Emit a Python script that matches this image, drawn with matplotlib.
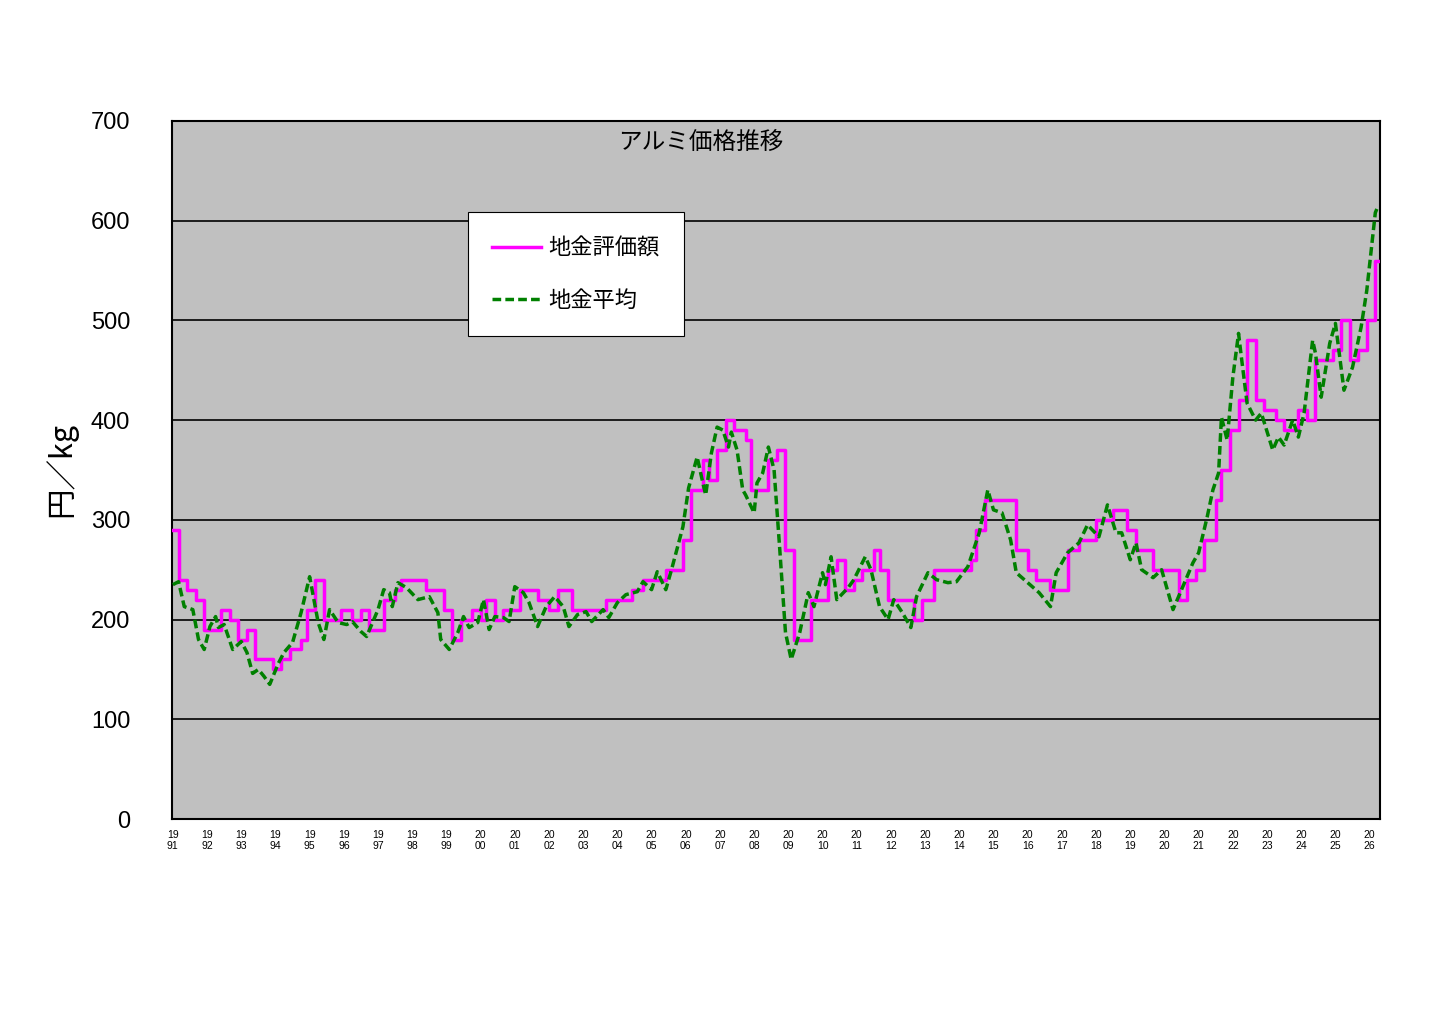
import matplotlib
matplotlib.use('Agg')
import matplotlib.pyplot as plt
import numpy as np

plt.rcParams['font.family'] = ['Noto Sans CJK JP', 'DejaVu Sans']

# months since Jan 1991 where the appraisal value changes, and its new value
appr_month = [0, 2, 5, 8, 11, 17, 20, 23, 26, 29, 35, 38, 41, 45, 47, 50, 53, 59, 63, 66, 69,
              74, 78, 80, 89, 95, 98, 101, 105, 108, 110, 113, 116, 122, 128, 132, 135, 140, 152,
              161, 165, 173, 179, 182, 186, 188, 191, 194, 197, 201, 203, 209, 212, 215, 218, 224,
              230, 233, 236, 239, 242, 246, 248, 251, 260, 263, 267, 280, 282, 285, 296, 300, 303,
              308, 314, 318, 324, 330, 335, 338, 344, 353, 356, 359, 362, 366, 368, 371, 374, 377,
              380, 383, 387, 390, 395, 398, 401, 407, 410, 413, 416, 419, 422, 423.5]
appr_value = [290, 240, 230, 220, 190, 210, 200, 180, 190, 160, 150, 160, 170, 180, 210, 240, 200,
              210, 200, 210, 190, 220, 230, 240, 230, 210, 180, 200, 210, 200, 220, 200, 210, 230,
              220, 210, 230, 210, 220, 230, 240, 250, 280, 330, 360, 340, 370, 400, 390, 380, 330,
              360, 370, 270, 180, 220, 250, 260, 230, 240, 250, 270, 250, 220, 200, 220, 250, 260,
              290, 320, 270, 250, 240, 230, 270, 280, 300, 310, 290, 270, 250, 220, 240, 250, 280,
              320, 350, 390, 420, 480, 420, 410, 400, 390, 410, 400, 460, 470, 500, 460, 470, 500,
              560, 560]

avg_month = [0, 2, 4, 7, 9, 11, 13, 15, 16, 18, 21, 24, 26, 28, 30, 32, 34, 37, 39, 42, 45, 48,
             51, 53, 55, 58, 61, 63, 66, 68, 72, 74, 76, 77, 79, 82, 86, 90, 93, 94, 97, 100, 102,
             104, 107, 109, 111, 113, 116, 118, 120, 123, 125, 128, 131, 134, 137, 139, 142, 145,
             147, 151, 153, 156, 159, 163, 165, 168, 170, 173, 175, 179, 181, 184, 186, 187, 189,
             191, 193, 195, 196, 198, 200, 201, 204, 205, 207, 209, 211, 213, 215, 217, 220, 223,
             225, 228, 229, 231, 233, 237, 239, 243, 245, 248, 251, 253, 256, 259, 261, 265, 268,
             272, 275, 279, 283, 286, 288, 291, 294, 296, 300, 304, 308, 310, 314, 318, 321, 325,
             328, 331, 333, 336, 338, 340, 344, 347, 351, 354, 358, 360, 363, 365, 367, 368, 370,
             372, 374, 375, 377, 380, 382, 386, 388, 390, 393, 395, 397, 400, 401, 403, 406, 408,
             411, 414, 417, 419, 422, 423]
avg_value = [235, 238, 213, 210, 180, 170, 193, 203, 192, 195, 170, 178, 167, 146, 150, 143, 135,
             156, 167, 177, 207, 243, 197, 180, 210, 197, 195, 198, 188, 183, 210, 230, 227, 213,
             237, 232, 220, 223, 207, 180, 170, 187, 203, 192, 197, 220, 190, 203, 202, 198, 233,
             227, 217, 193, 213, 223, 213, 193, 205, 208, 198, 210, 202, 217, 225, 228, 238, 230,
             248, 230, 250, 293, 332, 363, 337, 325, 367, 393, 390, 373, 388, 370, 330, 325, 307,
             337, 347, 373, 350, 270, 187, 160, 187, 227, 213, 247, 235, 263, 220, 232, 240, 263,
             250, 213, 200, 220, 207, 192, 223, 247, 240, 237, 238, 253, 287, 330, 310, 307, 280,
             247, 237, 227, 213, 247, 267, 277, 295, 283, 315, 287, 287, 260, 277, 250, 242, 250,
             210, 230, 257, 267, 303, 330, 347, 403, 380, 443, 487, 463, 417, 400, 407, 370, 383,
             375, 400, 383, 407, 480, 467, 423, 477, 497, 430, 453, 493, 530, 608, 615]

years = list(range(1991, 2027))

appr_x = 1991 + np.array(appr_month) / 12
avg_x = 1991 + np.array(avg_month) / 12

fig = plt.figure(figsize=(14.32, 10.14), dpi=100)
ax = fig.add_axes([0.120, 0.1923, 0.8436, 0.6884])
ax.set_facecolor('#C0C0C0')

ax.step(appr_x, appr_value, where='post', color='#FF00FF', lw=2.5, label='地金評価額', zorder=3)
ax.plot(avg_x, avg_value, color='#008000', lw=2.5, ls=(0, (2.5, 1.2)), label='地金平均', zorder=4)

ax.set_xlim(1990.97, 2026.3)
ax.set_ylim(0, 700)
ax.set_yticks(range(0, 701, 100))
ax.yaxis.grid(True, color='black', lw=1.2)
ax.set_axisbelow(True)
for s in ax.spines.values():
    s.set_linewidth(1.5)

ax.set_xticks(years)
ax.set_xticklabels([f'{str(y)[:2]}\n{str(y)[2:]}' for y in years], fontsize=7.5,
                   family=['Liberation Sans'], linespacing=1.1)
ax.tick_params(axis='x', length=0, pad=8)
ax.tick_params(axis='y', length=0, pad=30, labelsize=17)
for t in ax.get_yticklabels():
    t.set_family(['Liberation Sans'])
    t.set_horizontalalignment('right')

ax.set_ylabel('円／kg', fontsize=22, labelpad=10)
ax.text(0.438, 0.985, 'アルミ価格推移', transform=ax.transAxes, ha='center', va='top', fontsize=17)

leg = ax.legend(loc='upper left', bbox_to_anchor=(0.236, 0.885), fontsize=16, frameon=True,
                fancybox=False, edgecolor='black', framealpha=1, borderpad=1.1,
                labelspacing=1.3, handlelength=2.2, handletextpad=0.3)
leg.get_frame().set_linewidth(0.8)

fig.savefig('out.png', dpi=100)
